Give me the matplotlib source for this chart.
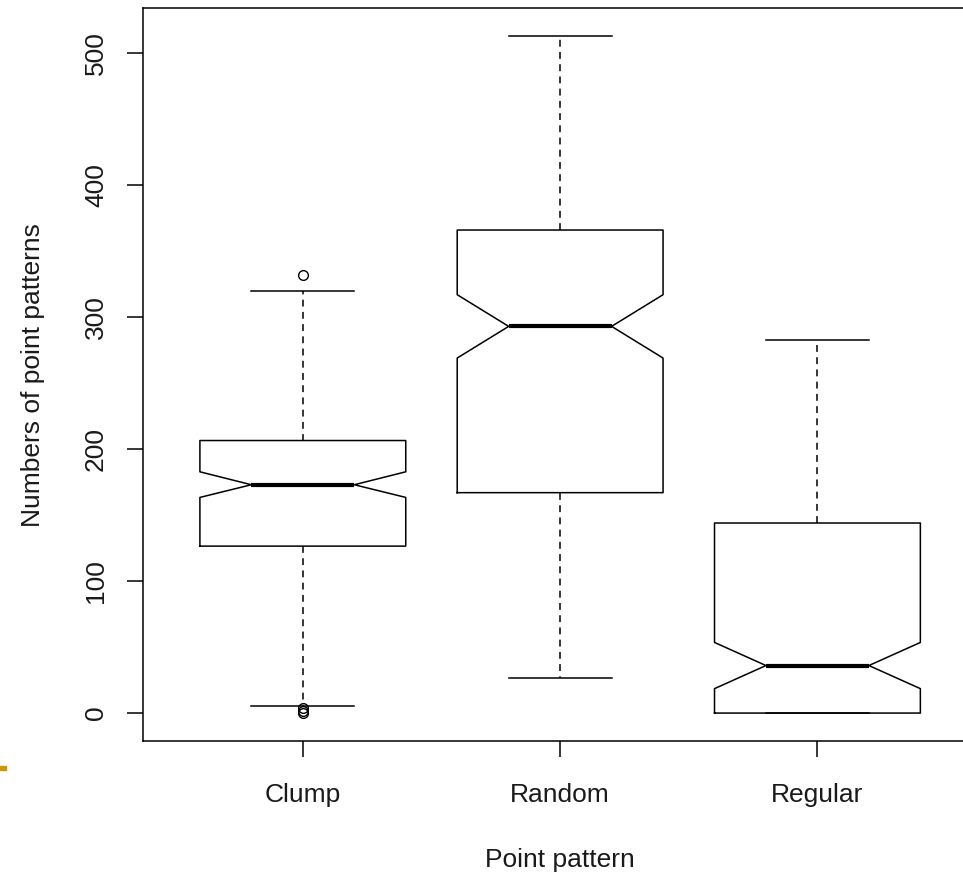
import matplotlib.pyplot as plt
from matplotlib.patches import Rectangle

plt.rcParams['font.family'] = ['Liberation Sans', 'DejaVu Sans']

# five-number summaries of each point pattern, with notch limits and outliers
groups = ["Clump", "Random", "Regular"]
q1 = [126.5, 167, 0]
med = [173, 293, 36]
q3 = [206.5, 366, 144]
ci_lo = [163.4, 269, 18.5]
ci_hi = [182.8, 317, 53.5]
whisk_lo = [5.5, 26.5, 0]
whisk_hi = [319.5, 513, 283]
outliers = [[332, 4, 1.5, 0], [], []]

stats = [
    dict(label=g, q1=a, med=m, q3=b, cilo=lo, cihi=hi,
         whislo=wl, whishi=wh, fliers=fl)
    for g, a, m, b, lo, hi, wl, wh, fl in
    zip(groups, q1, med, q3, ci_lo, ci_hi, whisk_lo, whisk_hi, outliers)
]

fig = plt.figure(figsize=(9.63, 8.75), dpi=100)
ax = fig.add_axes([0.1488, 0.1531, 0.8657, 0.8374])

lw = 1.1
ink = "#1a1a1a"
ax.bxp(stats, positions=[1, 2, 3], widths=0.8, shownotches=True,
       boxprops=dict(color="black", linewidth=lw),
       whiskerprops=dict(color="black", linewidth=lw, linestyle=(0, (4.5, 3.5))),
       capprops=dict(color="black", linewidth=lw),
       medianprops=dict(color="black", linewidth=3.0, solid_capstyle="butt"),
       flierprops=dict(marker="o", markerfacecolor="none", markeredgecolor="black",
                       markersize=7, markeredgewidth=1.0))

ax.set_xlim(0.38, 3.62)
ax.set_ylim(-21.2, 534)
ax.set_yticks([0, 100, 200, 300, 400, 500])
ax.set_yticklabels(["0", "100", "200", "300", "400", "500"], rotation=90, va="center")
ax.set_xticks([1, 2, 3])
ax.set_xticklabels(groups)

ax.tick_params(axis="both", direction="out", length=11.5, width=lw,
               labelsize=19, colors="black", labelcolor=ink)
ax.tick_params(axis="x", pad=18.5)
ax.tick_params(axis="y", pad=14)
for sp in ax.spines.values():
    sp.set_linewidth(lw)

ax.set_xlabel("Point pattern", fontsize=19, labelpad=30, color=ink)
ax.set_ylabel("Numbers of point patterns", fontsize=19, labelpad=28, color=ink)

# small accent mark at the left edge
fig.patches.append(Rectangle((0, 1 - 770 / 875), 6 / 963, 4 / 875,
                             transform=fig.transFigure, color="#CC9900"))

fig.savefig("out.png", dpi=100)
